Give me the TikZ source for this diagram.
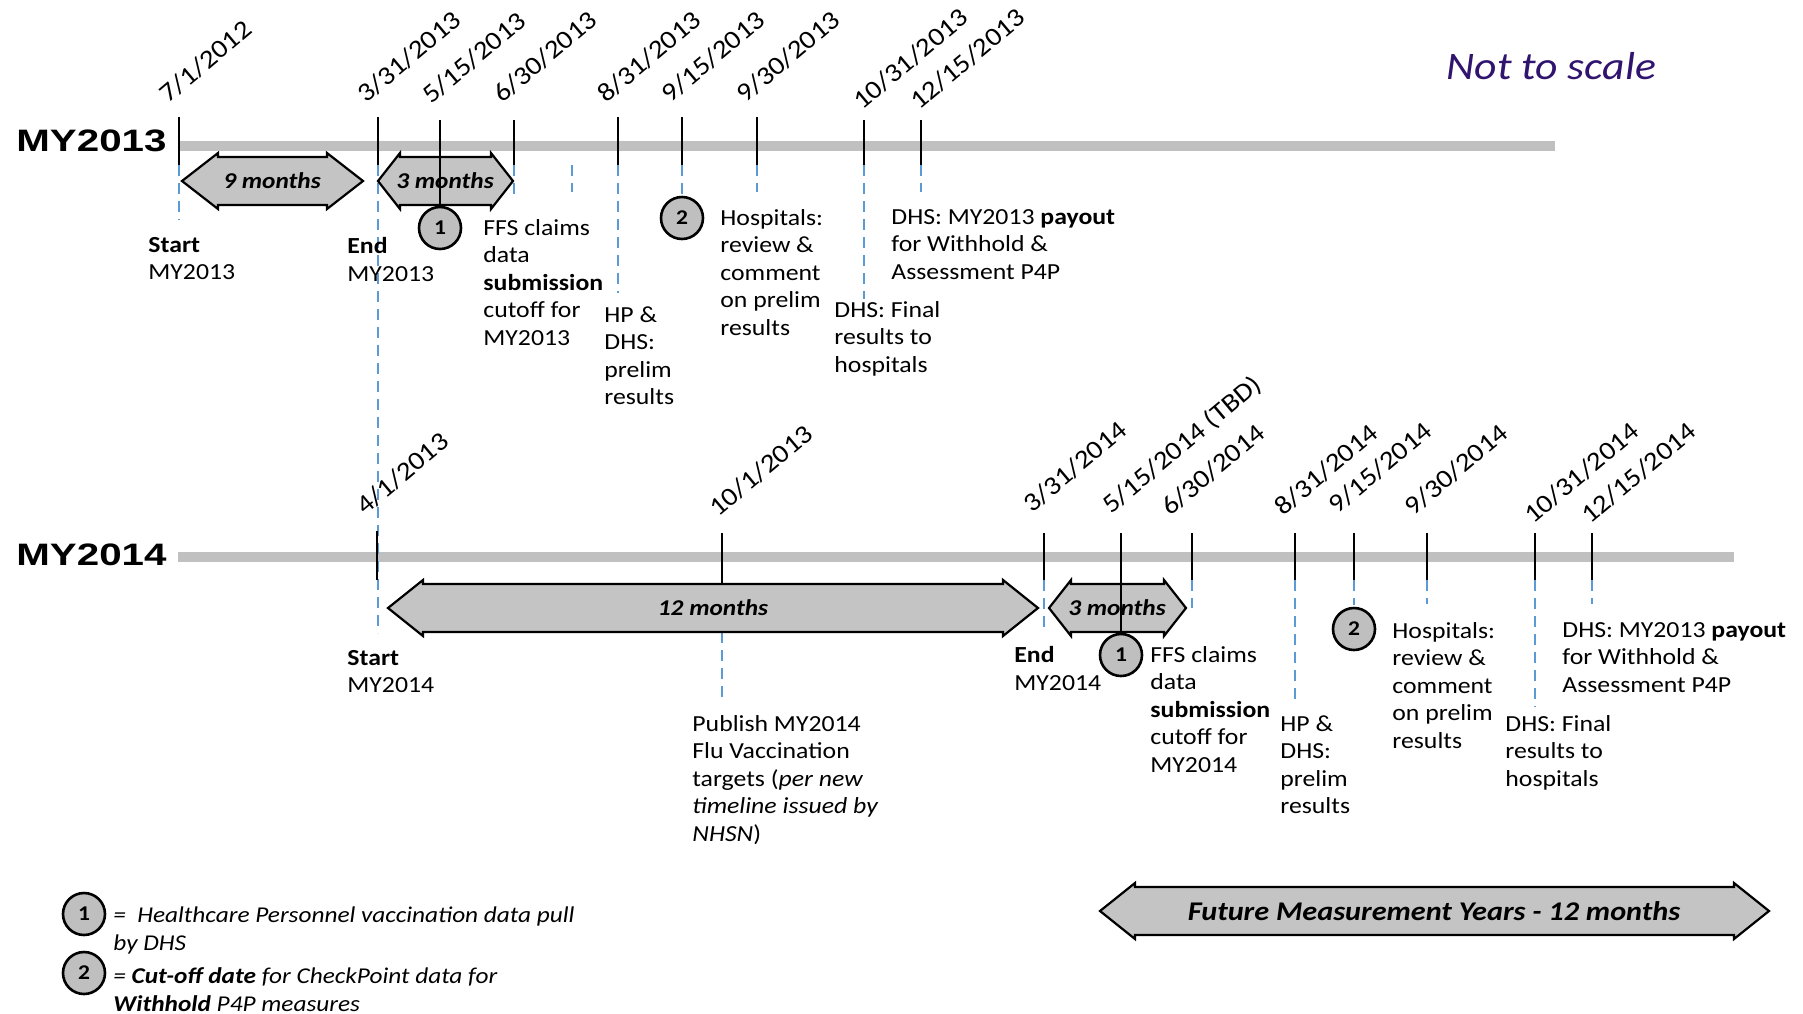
\documentclass[tikz,border=0pt]{standalone}
\usepackage{fontspec}
\setmainfont{Carlito}[FakeStretch=1.12]
\newfontfamily\yearfont{Liberation Sans}[FakeStretch=1.3]
\usepackage{xcolor}
\definecolor{bargray}{RGB}{192,192,192}
\definecolor{arrowgray}{RGB}{196,196,196}
\definecolor{circgray}{RGB}{191,191,191}
\definecolor{dashblue}{RGB}{91,155,213}
\definecolor{scalepurple}{RGB}{48,20,110}

\tikzset{
  timebar/.style={bargray,line width=5pt},
  tickline/.style={black,line width=1pt},
  dashline/.style={dashblue,line width=0.8pt,dash pattern=on 5.5pt off 3.5pt},
  bararrow/.style={draw=black,line width=1.1pt,fill=arrowgray,line join=miter},
  monthlbl/.style={inner sep=0pt,font=\fontsize{11.3}{13}\selectfont\bfseries\itshape},
  numcirc/.style={circle,draw=black,line width=1.3pt,fill=circgray,minimum size=21pt,inner sep=0pt,font=\fontsize{10.5}{10.5}\selectfont\bfseries},
  datelbl/.style={rotate=40,anchor=base west,inner sep=0pt,font=\fontsize{13}{15}\selectfont},
  txt/.style={anchor=north west,inner sep=0pt,align=left,font=\fontsize{11.5}{13.75}\selectfont},
  keytxt/.style={anchor=north west,inner sep=0pt,align=left,font=\fontsize{11.3}{14}\selectfont\itshape},
  yearlbl/.style={anchor=west,inner sep=0pt,font=\yearfont\fontsize{15.5}{17}\selectfont\bfseries},
  scalelbl/.style={anchor=west,inner sep=0pt,scalepurple,font=\fontsize{19.5}{22}\selectfont\itshape}
}

\begin{document}
\begin{tikzpicture}[x=0.5pt,y=0.5pt,yscale=-1,xscale=1]
\useasboundingbox (0,0) rectangle (1803,1013);

% Text Node
\node[yearlbl] (my13) at (16,141) {MY2013};
% Text Node
\node[yearlbl] (my14) at (16,555) {MY2014};
% Text Node
\node[scalelbl] (noscale) at (1446,66) {Not to scale};

%Straight Lines (time bars)
\draw[timebar] (178,146) -- (1555,146);
\draw[timebar] (178,557) -- (1734,557);

%Dashed Lines MY2013
\draw[dashline] (179,165) -- (179,220);
\draw[dashline] (378,165) -- (378,633);
\draw[dashline] (514,165) -- (514,195);
\draw[dashline] (572,165) -- (572,192);
\draw[dashline] (618,165) -- (618,293);
\draw[dashline] (682,165) -- (682,194);
\draw[dashline] (757,165) -- (757,192);
\draw[dashline] (864,165) -- (864,299);
\draw[dashline] (921,165) -- (921,192);
%Dashed Lines MY2014
\draw[dashline] (722,632) -- (722,702);
\draw[dashline] (1044,580) -- (1044,632);
\draw[dashline] (1192,580) -- (1192,608);
\draw[dashline] (1295,580) -- (1295,702);
\draw[dashline] (1354,580) -- (1354,605);
\draw[dashline] (1427,580) -- (1427,604);
\draw[dashline] (1535,580) -- (1535,707);
\draw[dashline] (1592,580) -- (1592,604);

%Shape: Double Arrow (9 months)
\draw[bararrow] (182,181) -- (218,153) -- (218,157) -- (327,157) -- (327,153) -- (363,181) -- (327,209) -- (327,205) -- (218,205) -- (218,209) -- cycle;
\node[monthlbl] (m9) at (272,181) {9 months};
%Shape: Double Arrow (3 months, MY2013)
\draw[bararrow] (378,181) -- (400,153) -- (400,157) -- (491,157) -- (491,153) -- (513,181) -- (491,209) -- (491,205) -- (400,205) -- (400,209) -- cycle;
\node[monthlbl] (m3a) at (445,181) {3 months};
%Shape: Double Arrow (12 months)
\draw[bararrow] (388,608) -- (423,580) -- (423,584) -- (1003,584) -- (1003,580) -- (1038,608) -- (1003,636) -- (1003,632) -- (423,632) -- (423,636) -- cycle;
\node[monthlbl] (m12) at (713,608) {12 months};
%Shape: Double Arrow (3 months, MY2014)
\draw[bararrow] (1049,608) -- (1071,580) -- (1071,584) -- (1164,584) -- (1164,580) -- (1186,608) -- (1164,636) -- (1164,632) -- (1071,632) -- (1071,636) -- cycle;
\node[monthlbl] (m3b) at (1117,608) {3 months};
%Shape: Double Arrow (future years)
\draw[bararrow] (1100,911) -- (1135,883) -- (1135,887) -- (1734,887) -- (1734,883) -- (1769,911) -- (1734,939) -- (1734,935) -- (1135,935) -- (1135,939) -- cycle;
\node[monthlbl,font=\fontsize{13.5}{15}\selectfont\bfseries\itshape] (future) at (1434,911) {Future Measurement Years - 12 months};

%Shape: Circles
\node[numcirc] (c1a) at (440,228) {1};
\node[numcirc] (c2a) at (682,218) {2};
\node[numcirc] (c1b) at (1121,655) {1};
\node[numcirc] (c2b) at (1354,629) {2};

%Straight Lines (ticks MY2013)
\draw[tickline] (179,117) -- (179,165);
\draw[tickline] (378,117) -- (378,165);
\draw[tickline] (440,120) -- (c1a.north);
\draw[tickline] (514,120) -- (514,165);
\draw[tickline] (618,117) -- (618,165);
\draw[tickline] (682,117) -- (682,165);
\draw[tickline] (757,117) -- (757,165);
\draw[tickline] (864,120) -- (864,165);
\draw[tickline] (921,120) -- (921,165);
%Straight Lines (ticks MY2014)
\draw[tickline] (377,531) -- (377,580);
\draw[tickline] (722,533) -- (722,584);
\draw[tickline] (1044,533) -- (1044,580);
\draw[tickline] (1121,533) -- (c1b.north);
\draw[tickline] (1192,533) -- (1192,580);
\draw[tickline] (1295,533) -- (1295,580);
\draw[tickline] (1354,533) -- (1354,580);
\draw[tickline] (1427,533) -- (1427,580);
\draw[tickline] (1535,533) -- (1535,580);
\draw[tickline] (1592,533) -- (1592,580);

% Text Node (dates MY2013)
\node[datelbl] (d13a) at (168,104) {7/1/2012};
\node[datelbl] (d13b) at (366,104) {3/31/2013};
\node[datelbl] (d13c) at (431,105) {5/15/2013};
\node[datelbl] (d13d) at (502,104) {6/30/2013};
\node[datelbl] (d13e) at (606,104) {8/31/2013};
\node[datelbl] (d13f) at (670,104) {9/15/2013};
\node[datelbl] (d13g) at (745,104) {9/30/2013};
\node[datelbl] (d13h) at (862,111) {10/31/2013};
\node[datelbl] (d13i) at (919,111) {12/15/2013};
% Text Node (dates MY2014)
\node[datelbl] (d14a) at (365,516) {4/1/2013};
\node[datelbl] (d14b) at (718,518) {10/1/2013};
\node[datelbl] (d14c) at (1032,514) {3/31/2014};
\node[datelbl] (d14d) at (1111,515) {5/15/2014 (TBD)};
\node[datelbl] (d14e) at (1170,517) {6/30/2014};
\node[datelbl] (d14f) at (1283,517) {8/31/2014};
\node[datelbl] (d14g) at (1337,515) {9/15/2014};
\node[datelbl] (d14h) at (1413,517) {9/30/2014};
\node[datelbl] (d14i) at (1533,525) {10/31/2014};
\node[datelbl] (d14j) at (1590,525) {12/15/2014};

% Text Node (notes MY2013)
\node[txt] (start13) at (148,237) {\textbf{Start}\\MY2013};
\node[txt] (end13) at (347,237) {\textbf{End}\\MY2013};
\node[txt] (ffs13) at (483,219) {FFS claims\\data\\\textbf{submission}\\cutoff for\\MY2013};
\node[txt] (hp13) at (604,306) {HP \&\\DHS:\\prelim\\results};
\node[txt] (hosp13) at (720,209) {Hospitals:\\review \&\\comment\\on prelim\\results};
\node[txt] (fin13) at (834,301) {DHS: Final\\results to\\hospitals};
\node[txt] (pay13) at (891,209) {DHS: MY2013 \textbf{payout}\\for Withhold \&\\Assessment P4P};

% Text Node (notes MY2014)
\node[txt] (start14) at (347,650) {\textbf{Start}\\MY2014};
\node[txt] (end14) at (1014,646) {\textbf{End}\\MY2014};
\node[txt] (ffs14) at (1150,646) {FFS claims\\data\\\textbf{submission}\\cutoff for\\MY2014};
\node[txt] (hp14) at (1280,715) {HP \&\\DHS:\\prelim\\results};
\node[txt] (hosp14) at (1392,622) {Hospitals:\\review \&\\comment\\on prelim\\results};
\node[txt] (fin14) at (1505,715) {DHS: Final\\results to\\hospitals};
\node[txt] (pay14) at (1562,622) {DHS: MY2013 \textbf{payout}\\for Withhold \&\\Assessment P4P};
\node[txt] (pub14) at (692,715) {Publish MY2014\\Flu Vaccination\\targets (\textit{per new}\\\textit{timeline issued by}\\\textit{NHSN})};

%Legend
\node[numcirc] (key1) at (84,914) {1};
\node[keytxt] (key1txt) at (113,906) {=\enspace Healthcare Personnel vaccination data pull\\by DHS};
\node[numcirc] (key2) at (84,973) {2};
\node[keytxt] (key2txt) at (113,967) {= \textbf{Cut-off date} for CheckPoint data for\\\textbf{Withhold} P4P measures};

\end{tikzpicture}
\end{document}
